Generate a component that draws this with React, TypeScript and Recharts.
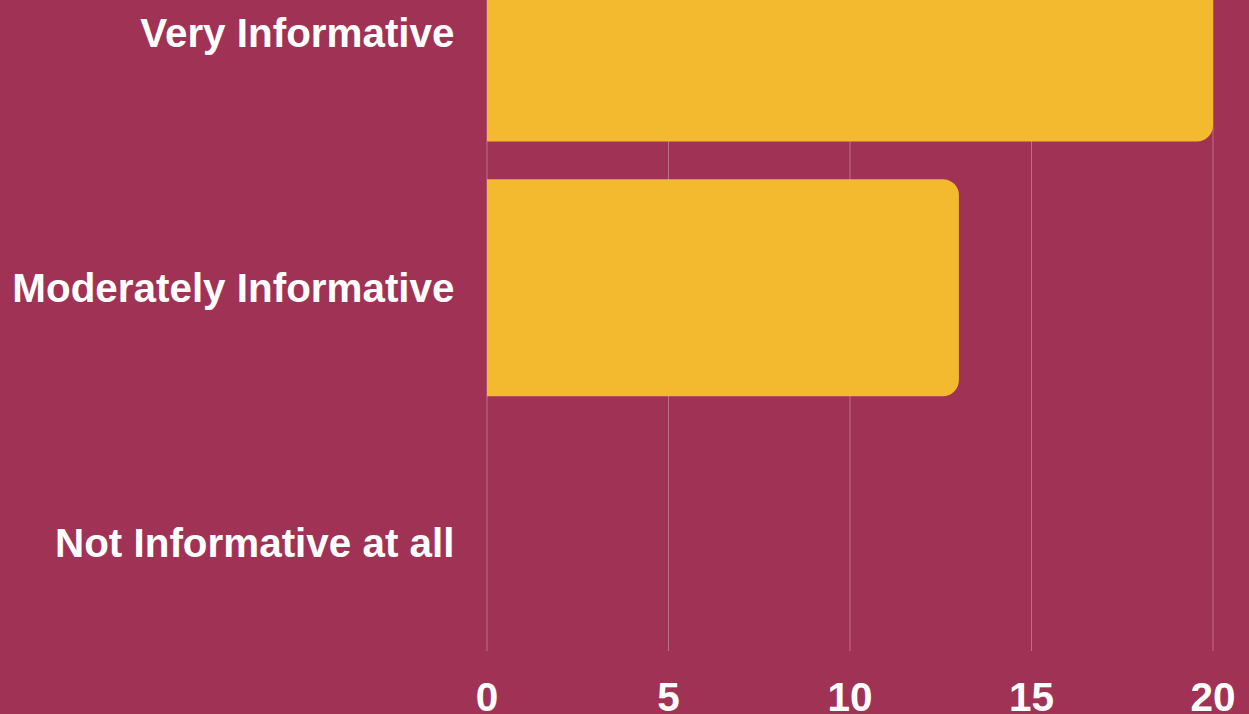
import React from "react";
import { BarChart, Bar, XAxis, YAxis, CartesianGrid } from "recharts";

const categories = ["Very Informative", "Moderately Informative", "Not Informative at all"];
const counts = [20, 13, 0];
const xTicks = [0, 5, 10, 15, 20];

const data = categories.map((c, i) => ({ name: c, value: counts[i] }));

const BG = "#A03256";
const BAR = "#F3B92F";
const FONT = "'Liberation Sans', Arial, sans-serif";

export default function App() {
  return (
    <div
      style={{
        position: "absolute",
        left: 0,
        top: 0,
        width: 1249,
        height: 714,
        overflow: "hidden",
        background: BG,
      }}
    >
      <div style={{ position: "absolute", left: 0, top: -100 }}>
        <BarChart
          width={1249}
          height={814}
          data={data}
          layout="vertical"
          margin={{ top: 5.5, right: 36, bottom: 0, left: 0 }}
          barSize={217}
        >
          <CartesianGrid horizontal={false} stroke="#ffffff" strokeOpacity={0.3} />
          <XAxis
            type="number"
            domain={[0, 20]}
            ticks={xTicks}
            axisLine={false}
            tickLine={false}
            tickSize={0}
            tickMargin={31}
            height={63}
            interval={0}
            tick={{ fill: "#ffffff", fontSize: 40.5, fontWeight: 700, fontFamily: FONT }}
          />
          <YAxis
            type="category"
            dataKey="name"
            width={487}
            axisLine={false}
            tickLine={false}
            tickSize={0}
            tickMargin={32.5}
            padding={{ top: 0, bottom: -18.5 }}
            interval={0}
            tick={{ fill: "#ffffff", fontSize: 40.4, fontWeight: 700, fontFamily: FONT }}
          />
          <Bar dataKey="value" fill={BAR} radius={[0, 16, 16, 0]} isAnimationActive={false} />
        </BarChart>
      </div>
    </div>
  );
}
